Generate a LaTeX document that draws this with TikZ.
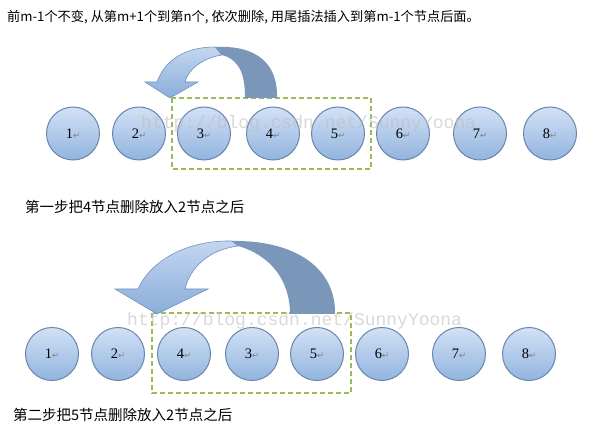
\documentclass[tikz,border=0pt]{standalone}
\usepackage{fontspec}
\setmainfont{Liberation Serif}
\newfontfamily\cjkfont{Noto Sans CJK SC}
\newfontfamily\markfont{DejaVu Sans}
\newfontfamily\wmfont{Liberation Mono}
\definecolor{nd_top}{RGB}{210, 225, 246}
\definecolor{nd_bot}{RGB}{146, 180, 222}
\definecolor{nd_edge}{RGB}{104, 134, 172}
\definecolor{arr_top}{RGB}{196, 215, 240}
\definecolor{arr_bot}{RGB}{138, 173, 218}
\definecolor{arr_edge}{RGB}{112, 146, 190}
\definecolor{arr_dark}{RGB}{122, 150, 184}
\definecolor{box_green}{RGB}{155, 187, 89}
\newcommand{\retmk}{{\markfont\fontsize{8.5}{8.5}\selectfont\color{gray}↵}}
\tikzstyle{nd}=[circle,draw=nd_edge,line width=1pt,top color=nd_top,
  bottom color=nd_bot,minimum size=53pt,inner sep=0pt,font=\fontsize{14.5}{14.5}\selectfont]
\tikzstyle{dbox}=[draw=box_green,line width=1.3pt,dash pattern=on 5pt off 3pt]
\tikzstyle{larr}=[draw=arr_edge,line width=0.6pt,top color=arr_top,bottom color=arr_bot]
\tikzstyle{darr}=[fill=arr_dark]
\tikzstyle{stepcap}=[anchor=west,inner sep=0pt,font=\cjkfont\fontsize{14.5}{16}\selectfont]
\tikzstyle{wm}=[anchor=west,inner sep=0pt,text=gray!50,opacity=0.6,
  font=\wmfont\fontsize{18}{18}\selectfont]

\begin{document}
\begin{tikzpicture}[x=1pt,y=-1pt]
    \useasboundingbox (0,0) rectangle (589,430);
    \node [anchor=west,inner sep=0pt,font=\cjkfont\fontsize{13.2}{15}\selectfont] (title) at (7,17)
        {前m-1个不变, 从第m+1个到第n个, 依次删除, 用尾插法插入到第m-1个节点后面。};
    \draw [style=dbox] (172,98) rectangle (371,169);
    \fill [style=darr] (245,98) -- (277,98) .. controls (278,62) and (255,45) .. (215,47)
        -- (222,55) .. controls (240,60) and (245,75) .. (245,98) -- cycle;
    \path [style=larr] (170,98) -- (145,82) -- (157,82) .. controls (165,60) and (185,47) .. (215,47)
        -- (222,55) .. controls (202,58) and (188,70) .. (185,82) -- (198,82) -- cycle;
    \node [style=nd] (a1) at (73,133.5) {1\retmk};
    \node [style=nd] (a2) at (139,133.5) {2\retmk};
    \node [style=nd] (a3) at (204,133.5) {3\retmk};
    \node [style=nd] (a4) at (273,133.5) {4\retmk};
    \node [style=nd] (a5) at (338,133.5) {5\retmk};
    \node [style=nd] (a6) at (403,133.5) {6\retmk};
    \node [style=nd] (a7) at (480,133.5) {7\retmk};
    \node [style=nd] (a8) at (550,133.5) {8\retmk};
    \node [style=wm] (wm1) at (141,124) {http://blog.csdn.net/SunnyYoona};
    \node [style=stepcap] (step1) at (25,207) {第一步把4节点删除放入2节点之后};
    \draw [style=dbox] (152,313) rectangle (351,393);
    \fill [style=darr] (290,314) -- (335,314) .. controls (336,268) and (295,240) .. (232,241)
        -- (238,246) .. controls (270,255) and (290,280) .. (290,314) -- cycle;
    \path [style=larr] (157,314) -- (115,289) -- (138,289) .. controls (150,262) and (185,240) .. (232,241)
        -- (238,246) .. controls (208,250) and (190,268) .. (185,289) -- (208,289) -- cycle;
    \node [style=nd] (b1) at (52,354) {1\retmk};
    \node [style=nd] (b2) at (118,354) {2\retmk};
    \node [style=nd] (b4) at (184,354) {4\retmk};
    \node [style=nd] (b3) at (252,354) {3\retmk};
    \node [style=nd] (b5) at (317,354) {5\retmk};
    \node [style=nd] (b6) at (382,354) {6\retmk};
    \node [style=nd] (b7) at (459,354) {7\retmk};
    \node [style=nd] (b8) at (529,354) {8\retmk};
    \node [style=wm] (wm2) at (127,321) {http://blog.csdn.net/SunnyYoona};
    \node [style=stepcap] (step2) at (13,415) {第二步把5节点删除放入2节点之后};
\end{tikzpicture}
\end{document}
